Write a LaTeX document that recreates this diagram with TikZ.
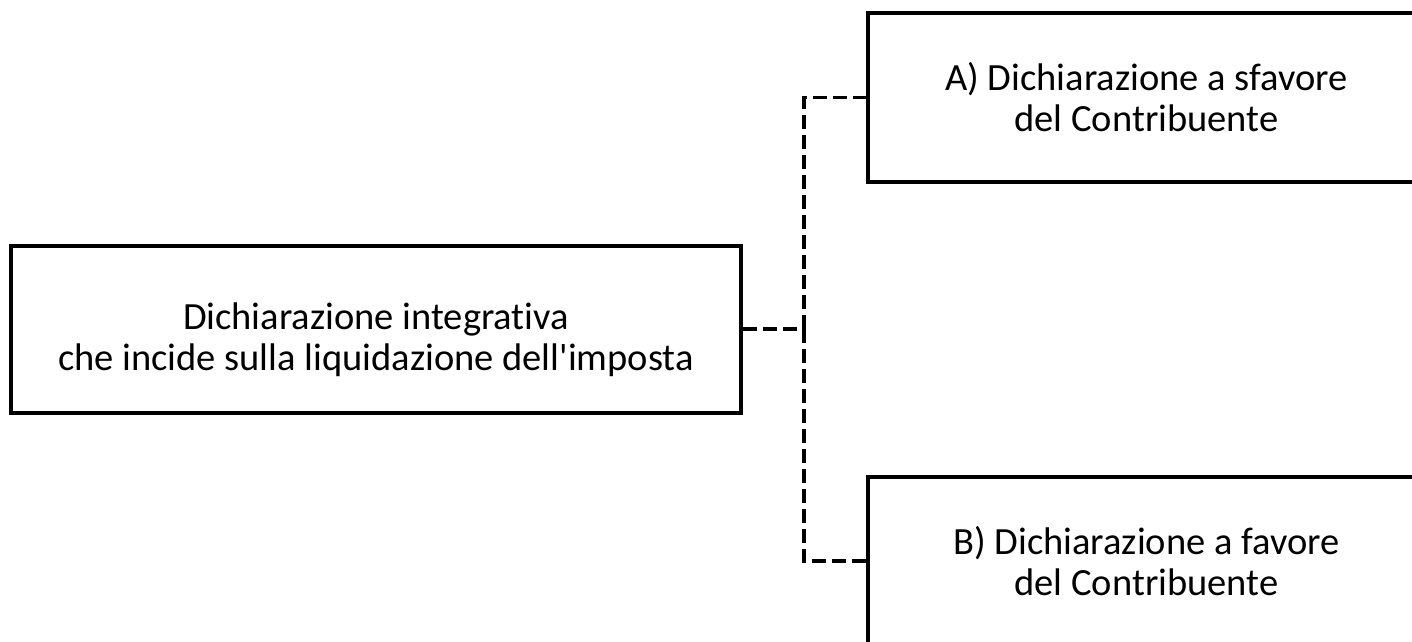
\documentclass[tikz,border=0pt]{standalone}
\usepackage{fontspec}
\newfontfamily\calfont{Carlito}[Ligatures=NoCommon]
\begin{document}
\begin{tikzpicture}[x=1pt,y=-1pt,
  box/.style={draw=black,line width=4pt,rectangle,inner sep=0pt,align=center,
    font=\calfont\fontsize{38.5}{41}\selectfont},
  conn/.style={draw=black,line width=3.5pt,dash pattern=on 14pt off 6pt}]
\useasboundingbox (0,0) rectangle (1412,641);
\clip (0,0) rectangle (1412,641);
\node[box,minimum width=730pt,minimum height=167pt] (L) at (376,329)
  {\rule{0pt}{48pt}Dichiarazione integrativa\\che incide sulla liquidazione dell'imposta};
\node[box,minimum width=557pt,minimum height=169pt] (A) at (1146.5,97.5)
  {A) Dichiarazione a sfavore\\del Contribuente};
\node[box,minimum width=557pt,minimum height=168pt] (B) at (1146.5,561)
  {B) Dichiarazione a favore\\del Contribuente};
\coordinate (J) at (804,329);
\draw[conn] (L.east) -- (J);
\draw[conn] (J) |- (A.west);
\draw[conn] (J) |- (B.west);
\end{tikzpicture}
\end{document}
